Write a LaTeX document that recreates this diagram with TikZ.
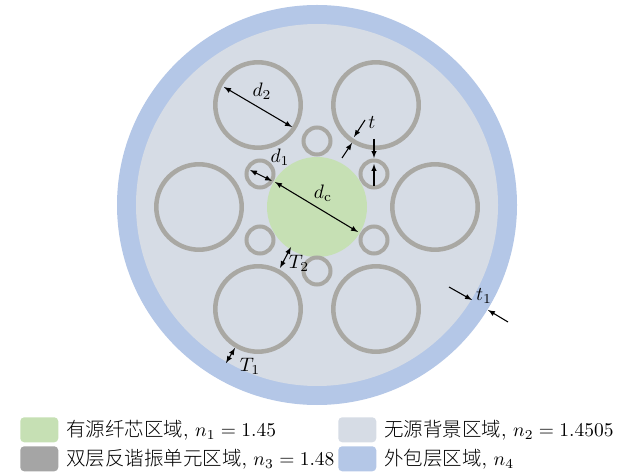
\documentclass[tikz,border=0pt]{standalone}
\usepackage{fontspec}
\newfontfamily\cjk{Noto Sans CJK SC Light}
\definecolor{coregreen}{HTML}{C6E0B4}
\definecolor{backgray}{HTML}{D6DCE5}
\definecolor{ringgray}{HTML}{A5A5A5}
\definecolor{ringline}{HTML}{A9A8A3}
\definecolor{cladblue}{HTML}{B4C7E7}
\tikzset{
  ringstyle/.style={draw=ringline,line width=3.4pt},
  smallring/.style={draw=ringline,line width=3pt},
  swatch/.style={rounded corners=3pt,minimum width=28.5pt,minimum height=18.8pt,inner sep=0pt,anchor=north west},
  legendtext/.style={anchor=west,inner sep=0pt,scale=1.46},
  dimlabel/.style={inner sep=0pt,scale=1.46},
}
\begin{document}
\begin{tikzpicture}[>=latex,x=0.75pt,y=-0.75pt]
  \useasboundingbox(0,0)rectangle(627,473);
  % cladding, background, core
  \fill[cladblue](317,205)circle(200);
  \fill[backgray](317,205)circle(181);
  \fill[coregreen](317,207)circle(50);
  % rings
  \foreach \cx/\cy in {258/105,376/105,199/207,435/207,258/309,376/309}
    \draw[ringstyle](\cx,\cy)circle(42.7);
  \foreach \cx/\cy in {317/141,260/174,374/174,260/240,374/240,317/271}
    \draw[smallring](\cx,\cy)circle(13.5);
  % dimensions
  \draw[<->,thick](224,87)--(292,127);
  \draw[<->,thick](250,170)--(272,181);
  \draw[<->,thick](275,182)--(358,232);
  \draw[->,thick](365,120)--(354,137);
  \draw[->,thick](342,158)--(352,143);
  \draw[->,thick](374,139)--(374,158);
  \draw[->,thick](374,186)--(374,164);
  \draw[<->,thick](291,247)--(280,268);
  \draw[<->,thick](235,348)--(226,363);
  \draw[->,thick](449,287)--(472,300);
  \draw[->,thick](508,322)--(488,310);
  \node[dimlabel](lbdtwo)at(262,91){$d_2$};
  \node[dimlabel](lbdone)at(280,157){$d_1$};
  \node[dimlabel](lbdc)at(323,193){$d_{\mathrm{c}}$};
  \node[dimlabel](lbt)at(372,123){$t$};
  \node[dimlabel](lbTtwo)at(299,263){$T_2$};
  \node[dimlabel](lbTone)at(250,366){$T_1$};
  \node[dimlabel](lbtone)at(484,296){$t_1$};
  % legend
  \node[swatch,fill=coregreen](swcore)at(20,417){};
  \node[swatch,fill=ringgray](swring)at(20,446){};
  \node[swatch,fill=backgray](swback)at(338,417){};
  \node[swatch,fill=cladblue](swclad)at(338,446){};
  \node[legendtext](txcore)at(66,430){{\cjk 有源纤芯区域}, $n_1=1.45$};
  \node[legendtext](txring)at(66,459){{\cjk 双层反谐振单元区域}, $n_3=1.48$};
  \node[legendtext](txback)at(384,430){{\cjk 无源背景区域}, $n_2=1.4505$};
  \node[legendtext](txclad)at(384,459){{\cjk 外包层区域}, $n_4$};
\end{tikzpicture}
\end{document}
